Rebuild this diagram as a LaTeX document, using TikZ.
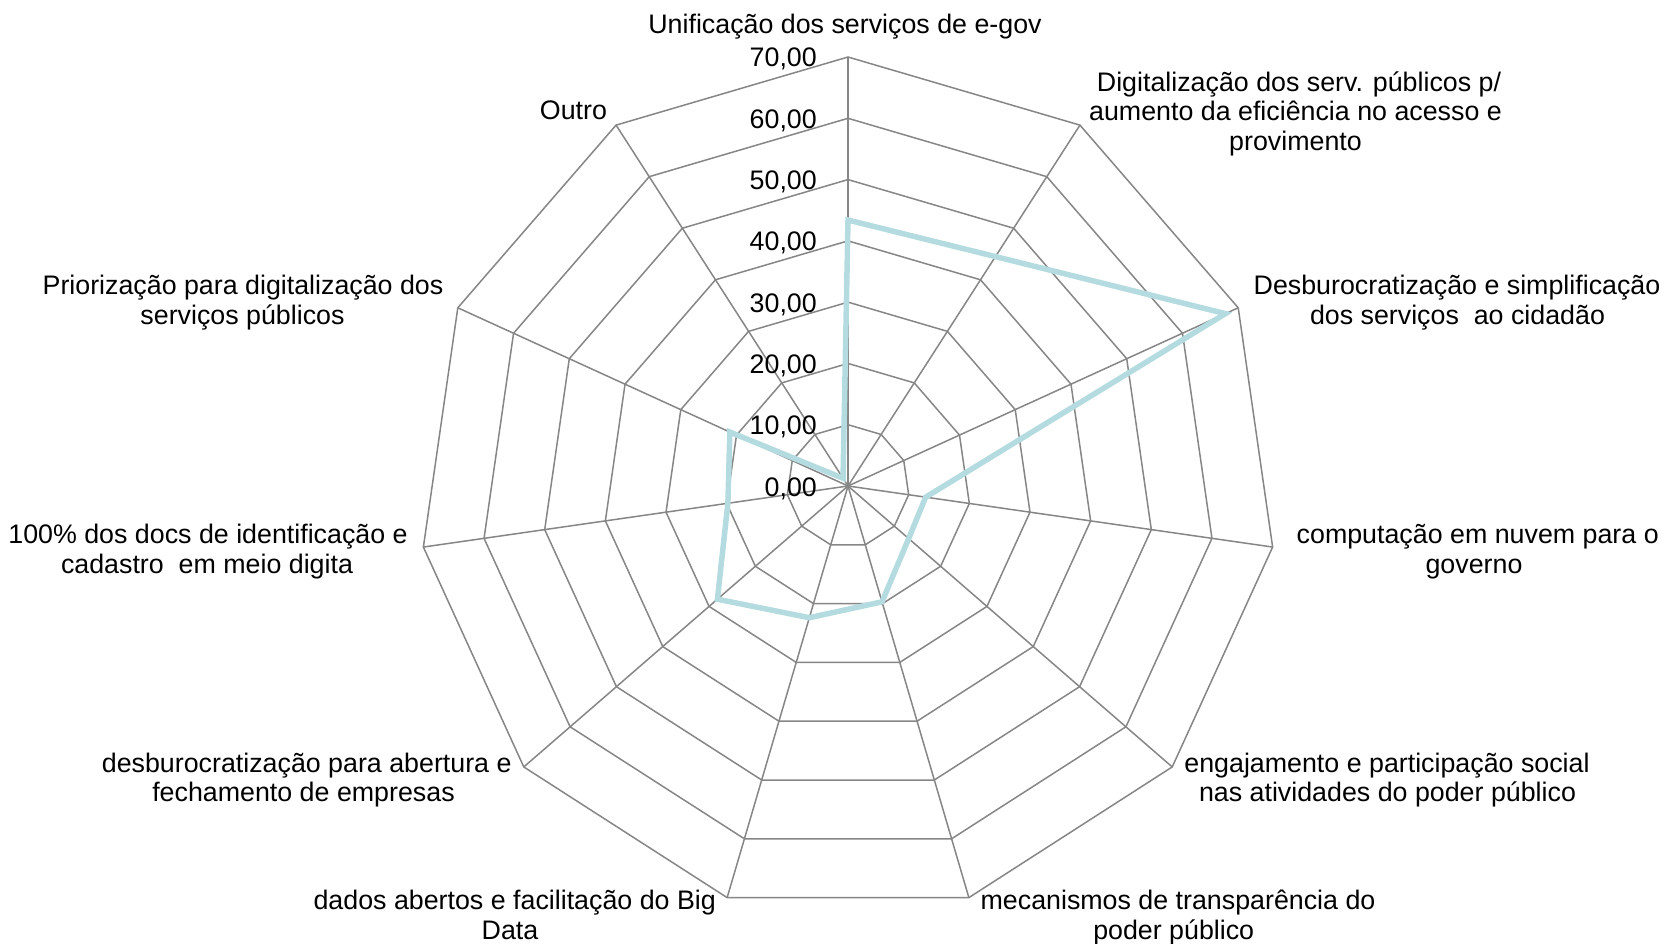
\documentclass[tikz,border=0pt]{standalone}
\usepackage{fontspec}
\setmainfont{Liberation Sans}
\usetikzlibrary{calc}
\definecolor{gridgray}{RGB}{134,134,134}
\definecolor{seriesblue}{RGB}{180,220,224}
\begin{document}
\begin{tikzpicture}[x=1pt,y=-1pt,
  grid/.style={draw=gridgray, line width=1.5pt},
  series/.style={draw=seriesblue, line width=5.5pt},
  lab/.style={anchor=base, inner sep=0pt, font=\fontsize{26.8}{30}\selectfont, text=black},
  tick/.style={anchor=base east, inner sep=0pt, font=\fontsize{26.8}{30}\selectfont, text=black}]
\useasboundingbox (0,0) rectangle (1664,943);
\coordinate (c) at (848,486);
\foreach \k in {0,...,10} {
  \pgfmathsetmacro\ang{-90+\k*360/11}
  \path (c) ++(\ang:429) coordinate (v\k);
}
% grid polygons
\foreach \L in {1,...,7} {
  \draw[grid] ($(c)!\L/7!(v0)$) \foreach \k in {1,...,10}{ -- ($(c)!\L/7!(v\k)$) } -- cycle;
}
% spokes
\foreach \k in {0,...,10} { \draw[grid] (c) -- (v\k); }
% series
\draw[series] ($(c)!43.4/70!(v0)$) -- ($(c)!44.5/70!(v1)$) -- ($(c)!67.7/70!(v2)$)
  -- ($(c)!12.8/70!(v3)$) -- ($(c)!13.1/70!(v4)$) -- ($(c)!19.7/70!(v5)$)
  -- ($(c)!22.4/70!(v6)$) -- ($(c)!28.2/70!(v7)$) -- ($(c)!19.8/70!(v8)$)
  -- ($(c)!21.2/70!(v9)$) -- ($(c)!1.5/70!(v10)$) -- cycle;
% tick labels
\node[tick] (t0) at (817,496) {0,00};
\node[tick] (t1) at (817,434.7) {10,00};
\node[tick] (t2) at (817,373.4) {20,00};
\node[tick] (t3) at (817,312.1) {30,00};
\node[tick] (t4) at (817,250.8) {40,00};
\node[tick] (t5) at (817,189.5) {50,00};
\node[tick] (t6) at (817,128.2) {60,00};
\node[tick] (t7) at (817,66.9) {70,00};
% category labels
\node[lab] (l0) at (845,33) {Unificação dos serviços de e-gov};
\node[lab] (l1a) at (1299,91) {Digitalização dos serv. públicos p/};
\node[lab] (l1b) at (1295.5,120.5) {aumento da eficiência no acesso e};
\node[lab] (l1c) at (1295.5,150) {provimento};
\node[lab] (l2a) at (1457,294) {Desburocratização e simplificação};
\node[lab] (l2b) at (1457.5,324) {dos serviços\ \ ao cidadão};
\node[lab] (l3a) at (1477.7,543) {computação em nuvem para o};
\node[lab] (l3b) at (1474,573) {governo};
\node[lab] (l4a) at (1387,772) {engajamento e participação social};
\node[lab] (l4b) at (1387.5,801.5) {nas atividades do poder público};
\node[lab] (l5a) at (1178,909.5) {mecanismos de transparência do};
\node[lab] (l5b) at (1173.7,939) {poder público};
\node[lab] (l6a) at (514.7,909.5) {dados abertos e facilitação do Big};
\node[lab] (l6b) at (510,939) {Data};
\node[lab] (l7a) at (306.7,772) {desburocratização para abertura e};
\node[lab] (l7b) at (303.5,801.5) {fechamento de empresas};
\node[lab] (l8a) at (208,543) {100\% dos docs de identificação e};
\node[lab] (l8b) at (207,573) {cadastro\ \ em meio digita};
\node[lab] (l9a) at (243,294) {Priorização para digitalização dos};
\node[lab] (l9b) at (242.5,324) {serviços públicos};
\node[lab] (l10) at (573.5,119.5) {Outro};
\end{tikzpicture}
\end{document}
